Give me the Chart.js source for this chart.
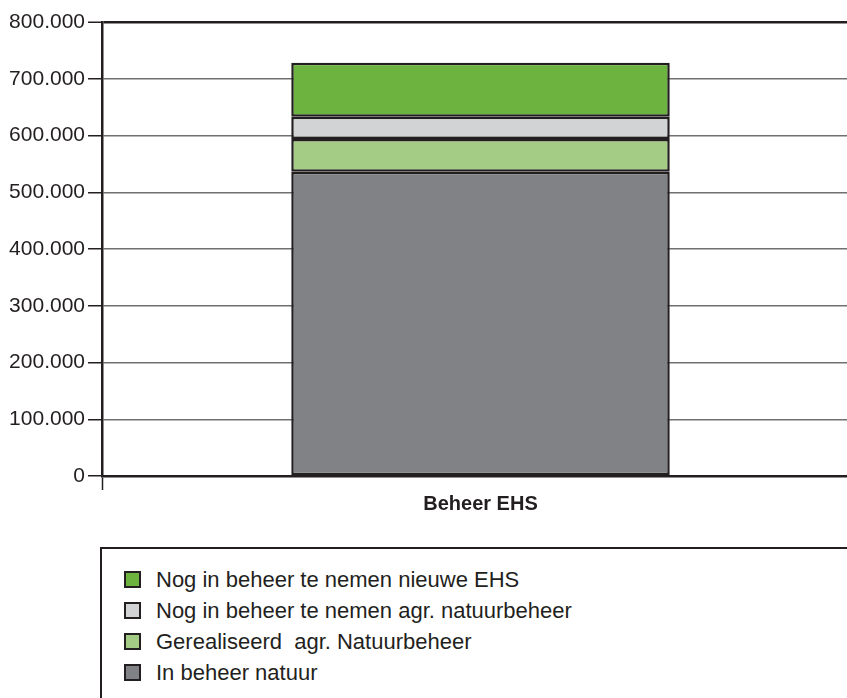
<!DOCTYPE html>
<html>
<head>
<meta charset="utf-8">
<script src="https://cdn.jsdelivr.net/npm/chart.js@4.4.1/dist/chart.umd.min.js"></script>
<style>
    body { margin: 0; overflow: hidden; background: #fff; font-family: "Liberation Sans", Arial, sans-serif; }
    .wrap { position: relative; width: 847px; height: 698px; overflow: hidden; }
    #beheer-chart { position: absolute; left: 0; top: 0; }
    .legend-box {
        position: absolute; left: 100px; top: 547px; width: 800px; height: 200px;
        border: 2px solid #231f20; padding: 15px 0 0 22px; box-sizing: border-box;
    }
    .legend-item { display: flex; align-items: center; height: 31px; color: #231f20; font-size: 22px; white-space: pre; }
    .legend-item span.box { width: 17px; height: 17px; box-sizing: border-box; border: 2.5px solid #231f20; margin-right: 15px; }
</style>
</head>
<body>
<div class="wrap">
    <canvas id="beheer-chart" width="859" height="546"></canvas>
    <div class="legend-box" id="legend"></div>
</div>
<script>
// data
let categories = ['Beheer EHS'];
let seriesLabels = ['In beheer natuur', 'Gerealiseerd  agr. Natuurbeheer', 'Nog in beheer te nemen agr. natuurbeheer', 'Nog in beheer te nemen nieuwe EHS'];
let inBeheerNatuur = [536000];
let gerealiseerdAgr = [58000];
let nogAgr = [39000];
let nogNieuweEhs = [95000];
let yTicks = [0, 100000, 200000, 300000, 400000, 500000, 600000, 700000, 800000];
let seriesColors = ['#808285', '#a5cc84', '#d1d3d4', '#6db33f'];

let dark = '#231f20';

function formatNl(v) {
    return v.toString().replace(/\B(?=(\d{3})+(?!\d))/g, '.');
}

let seriesData = [inBeheerNatuur, gerealiseerdAgr, nogAgr, nogNieuweEhs];
let datasets = [];
for (let i = 0; i < seriesData.length; i++) {
    datasets.push({
        label: seriesLabels[i],
        data: seriesData[i],
        backgroundColor: seriesColors[i],
        borderColor: dark,
        borderWidth: 2.5,
        borderSkipped: false,
        barPercentage: 0.5,
        categoryPercentage: 1
    });
}

Chart.defaults.font.family = '"Liberation Sans", Arial, sans-serif';
Chart.defaults.color = dark;

let ctx = document.getElementById('beheer-chart').getContext('2d');
let beheerChart = new Chart(ctx, {
    type: 'bar',
    data: { labels: categories, datasets: datasets },
    options: {
        responsive: false,
        animation: false,
        layout: { padding: { top: 22, left: 0, right: 0, bottom: 0 } },
        plugins: { legend: { display: false }, tooltip: { enabled: false } },
        scales: {
            x: {
                stacked: true,
                grid: { drawOnChartArea: false, tickLength: 14, tickColor: dark, tickWidth: 1.5 },
                border: { color: dark, width: 2.5 },
                ticks: { font: { size: 20, weight: 'bold' }, color: dark, padding: 2 },
                afterFit: function (scale) { scale.height = 70; }
            },
            y: {
                stacked: true,
                min: yTicks[0],
                max: yTicks[yTicks.length - 1],
                afterBuildTicks: function (scale) {
                    scale.ticks = yTicks.map(function (v) { return { value: v }; });
                },
                grid: {
                    color: function (c) { return c.tick && c.tick.value === yTicks[yTicks.length - 1] ? dark : '#707070'; },
                    lineWidth: function (c) { return c.tick && c.tick.value === yTicks[yTicks.length - 1] ? 2.5 : 1.5; },
                    tickLength: 14,
                    tickColor: dark,
                    tickWidth: 1.5
                },
                border: { color: dark, width: 2.5 },
                ticks: {
                    font: { size: 21 },
                    color: dark,
                    padding: 3,
                    callback: function (v) { return formatNl(v); }
                },
                afterFit: function (scale) { scale.width = 102; }
            }
        }
    }
});

// legend (top of stack first)
let legend = document.getElementById('legend');
for (let i = seriesLabels.length - 1; i >= 0; i--) {
    let item = document.createElement('div');
    item.className = 'legend-item';
    item.innerHTML = '<span class="box" style="background:' + seriesColors[i] + '"></span>' + seriesLabels[i];
    legend.appendChild(item);
}
</script>
</body>
</html>
